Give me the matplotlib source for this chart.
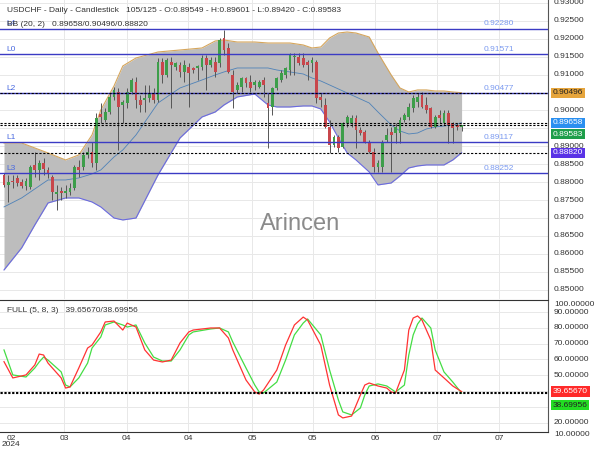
import numpy as np
import matplotlib
matplotlib.use("Agg")
import matplotlib.pyplot as plt
import matplotlib.transforms as mtransforms

plt.rcParams['font.family'] = ['Liberation Sans', 'DejaVu Sans']
Fontsize = 6

# --- USDCHF daily candles ---
opens = [0.88201, 0.87922, 0.88033, 0.88117, 0.88005, 0.87894, 0.87866, 0.88480, 0.88340, 0.88535,
         0.88340, 0.88145, 0.87670, 0.87754, 0.87698, 0.87726, 0.87838, 0.88424, 0.88424, 0.88759,
         0.88842, 0.88535, 0.89902, 0.89735, 0.89958, 0.90377, 0.90516, 0.90154, 0.90209, 0.90516,
         0.90795, 0.90293, 0.90293, 0.90349, 0.90488, 0.90293, 0.91353, 0.90991, 0.91353, 0.91214,
         0.91270, 0.91075, 0.91214, 0.91186, 0.91186, 0.91214, 0.91465, 0.91270, 0.91353, 0.91325,
         0.92023, 0.91744, 0.90991, 0.90573, 0.90656, 0.90907, 0.90795, 0.90712, 0.90656, 0.90851,
         0.90209, 0.90098, 0.90628, 0.90851, 0.90991, 0.91130, 0.91493, 0.91493, 0.91465, 0.91353,
         0.91325, 0.91353, 0.90377, 0.90154, 0.89540, 0.89038, 0.89261, 0.88982, 0.89651, 0.89651,
         0.89791, 0.89456, 0.89400, 0.89093, 0.88842, 0.88424, 0.88424, 0.89177, 0.89400, 0.89372,
         0.89372, 0.89735, 0.89819, 0.90070, 0.90237, 0.90433, 0.90154, 0.90070, 0.89540, 0.89875,
         0.89651, 0.89930, 0.89651, 0.89596, 0.89549]
highs = [0.88256, 0.88201, 0.88201, 0.88201, 0.88089, 0.88117, 0.88480, 0.88842, 0.88619, 0.88675,
         0.88424, 0.88201, 0.87922, 0.87866, 0.87922, 0.87977, 0.88480, 0.88619, 0.88842, 0.88982,
         0.89121, 0.89930, 0.90209, 0.90070, 0.90488, 0.90656, 0.90628, 0.90293, 0.90628, 0.90907,
         0.90935, 0.90433, 0.90712, 0.90712, 0.90628, 0.91465, 0.91465, 0.91465, 0.91493, 0.91353,
         0.91353, 0.91409, 0.91325, 0.91214, 0.91270, 0.91549, 0.91549, 0.91493, 0.91493, 0.92023,
         0.92246, 0.91883, 0.91130, 0.90795, 0.90935, 0.90935, 0.90991, 0.90851, 0.90851, 0.90935,
         0.90488, 0.90656, 0.90935, 0.91130, 0.91214, 0.91604, 0.91604, 0.91604, 0.91604, 0.91409,
         0.91493, 0.91409, 0.90488, 0.90349, 0.89735, 0.89317, 0.89317, 0.89679, 0.89875, 0.89875,
         0.89875, 0.89540, 0.89456, 0.89177, 0.88954, 0.88619, 0.89177, 0.89512, 0.89540, 0.89651,
         0.89819, 0.89930, 0.90209, 0.90433, 0.90488, 0.90516, 0.90377, 0.90098, 0.89875, 0.90014,
         0.90014, 0.90014, 0.89679, 0.89651, 0.89601]
lows = [0.87866, 0.87447, 0.87838, 0.87894, 0.87838, 0.87782, 0.87810, 0.88145, 0.88061, 0.88201,
        0.88117, 0.87503, 0.87224, 0.87503, 0.87559, 0.87643, 0.87782, 0.88145, 0.88340, 0.88675,
        0.88424, 0.88340, 0.89651, 0.89679, 0.89902, 0.90293, 0.88898, 0.89651, 0.90070, 0.90460,
        0.90070, 0.89958, 0.89958, 0.90237, 0.90209, 0.90237, 0.90767, 0.90935, 0.90070, 0.91130,
        0.90935, 0.90795, 0.90098, 0.91047, 0.90851, 0.91130, 0.90573, 0.91214, 0.90935, 0.91214,
        0.91549, 0.91047, 0.90070, 0.90488, 0.90516, 0.90656, 0.90516, 0.90573, 0.90628, 0.90377,
        0.88954, 0.89875, 0.90573, 0.90795, 0.90907, 0.90991, 0.90991, 0.91270, 0.91214, 0.90851,
        0.91075, 0.90209, 0.90098, 0.89512, 0.88814, 0.88982, 0.88842, 0.88954, 0.89540, 0.89540,
        0.88954, 0.89317, 0.89093, 0.88814, 0.88284, 0.88284, 0.88284, 0.89121, 0.88284, 0.89093,
        0.89093, 0.89679, 0.89735, 0.89958, 0.90098, 0.90070, 0.89930, 0.89512, 0.89512, 0.89651,
        0.89596, 0.89093, 0.89093, 0.89456, 0.89420]
closes = [0.87922, 0.88005, 0.88005, 0.87977, 0.87894, 0.88033, 0.88424, 0.88340, 0.88535, 0.88368,
          0.88229, 0.87726, 0.87726, 0.87698, 0.87754, 0.87838, 0.88424, 0.88340, 0.88759, 0.88842,
          0.88535, 0.89791, 0.89819, 0.89958, 0.90377, 0.90573, 0.90098, 0.90237, 0.90516, 0.90851,
          0.90293, 0.90154, 0.90349, 0.90488, 0.90293, 0.91353, 0.90991, 0.91409, 0.91270, 0.91325,
          0.91075, 0.91270, 0.91047, 0.91130, 0.91242, 0.91465, 0.91270, 0.91409, 0.91075, 0.91967,
          0.91688, 0.91075, 0.90516, 0.90712, 0.90907, 0.90767, 0.90628, 0.90795, 0.90795, 0.90712,
          0.90070, 0.90628, 0.90907, 0.91047, 0.91186, 0.91549, 0.91521, 0.91325, 0.91270, 0.91270,
          0.91409, 0.90349, 0.90293, 0.89540, 0.89038, 0.89261, 0.88954, 0.89651, 0.89819, 0.89791,
          0.89456, 0.89372, 0.89121, 0.88842, 0.88424, 0.88535, 0.89121, 0.89317, 0.89317, 0.89540,
          0.89735, 0.89875, 0.90098, 0.90349, 0.90377, 0.90098, 0.90014, 0.89540, 0.89819, 0.89791,
          0.89930, 0.89596, 0.89512, 0.89540, 0.89583]

# --- Bollinger band (20, 2) sampled along the candles ---
bb_idx = [0, 4, 7, 10, 14, 17, 20, 22, 25, 27, 30, 35, 40, 45, 48, 50, 53, 57, 60, 62,
          65, 68, 70, 72, 74, 76, 78, 80, 83, 85, 88, 90, 92, 94, 96, 98, 100, 102, 104]
bb_upper = [0.89093, 0.89093, 0.88954, 0.88814, 0.88619, 0.88759, 0.89317, 0.90014, 0.90684, 0.91242,
            0.91465, 0.91632, 0.91688, 0.91744, 0.91939, 0.91967, 0.91911, 0.91911, 0.91883, 0.91883,
            0.91883, 0.91828, 0.91744, 0.91772, 0.92023, 0.92162, 0.92190, 0.92162, 0.92051, 0.91604,
            0.90991, 0.90628, 0.90516, 0.90573, 0.90573, 0.90544, 0.90544, 0.90516, 0.90496]
bb_mid = [0.87308, 0.87559, 0.87810, 0.88061, 0.88061, 0.88117, 0.88229, 0.88340, 0.88703, 0.88898,
          0.89317, 0.90209, 0.90628, 0.90851, 0.90991, 0.91075, 0.91186, 0.91186, 0.91186, 0.91130,
          0.91075, 0.91019, 0.90907, 0.90823, 0.90712, 0.90600, 0.90488, 0.90377, 0.90209, 0.89958,
          0.89596, 0.89428, 0.89344, 0.89372, 0.89484, 0.89540, 0.89568, 0.89596, 0.89658]
bb_lower = [0.85550, 0.86164, 0.86805, 0.87419, 0.87559, 0.87559, 0.87447, 0.87308, 0.86999, 0.86945,
            0.86999, 0.88201, 0.89233, 0.89819, 0.89958, 0.90154, 0.90377, 0.90460, 0.90154, 0.90098,
            0.90098, 0.90126, 0.90126, 0.90042, 0.89679, 0.89233, 0.88814, 0.88619, 0.88284, 0.87922,
            0.87977, 0.88173, 0.88396, 0.88452, 0.88480, 0.88480, 0.88480, 0.88619, 0.88820]

# --- Stochastic FULL (5, 8, 3) ---
st_idx = [0, 2, 5, 7, 8, 9, 10, 13, 14, 15, 17, 19, 20, 22, 23, 25, 27, 28, 30, 32,
          34, 36, 38, 40, 42, 43, 47, 49, 51, 52, 55, 57, 58, 59, 62, 64, 66, 68, 69, 72,
          74, 76, 77, 79, 81, 82, 83, 85, 87, 88, 89, 91, 92, 93, 94, 95, 97, 98, 100, 102, 104]
st_k = [58.6, 48.3, 50.2, 56.5, 63.4, 62.8, 57.7, 48.3, 41.9, 42.6, 54.6, 67.2, 69.1, 77.4, 83.7, 84.3,
        78.6, 83.0, 80.5, 66.0, 59.6, 58.4, 59.6, 70.4, 77.4, 78.6, 79.9, 79.9, 73.6, 66.0, 47.0, 39.4,
        38.1, 40.7, 53.3, 69.1, 81.8, 86.8, 84.9, 69.1, 43.8, 24.9, 23.0, 24.2, 37.5, 43.8, 45.1, 43.2,
        41.9, 39.4, 38.8, 53.3, 78.6, 86.2, 87.5, 84.9, 72.3, 53.3, 48.3, 43.2, 39.6567]
st_d = [66.0, 50.2, 48.9, 54.6, 58.4, 61.5, 59.6, 52.1, 43.8, 42.6, 48.3, 57.7, 67.2, 74.2, 81.8, 83.7,
        81.8, 80.5, 81.8, 70.4, 61.5, 59.0, 59.0, 66.0, 75.5, 77.4, 79.3, 79.9, 77.4, 71.0, 54.6, 43.8,
        39.4, 38.8, 45.7, 59.6, 75.5, 83.0, 85.6, 75.5, 53.3, 34.3, 26.8, 24.9, 29.3, 37.5, 43.2, 44.5,
        43.2, 41.3, 39.4, 43.8, 62.8, 75.5, 82.4, 86.2, 79.9, 66.0, 52.1, 45.7, 38.69956]

# --- levels and labels ---
level_names = ['L4', 'L0', 'L2', 'L1', 'L3']
level_values = [0.92280, 0.91571, 0.90477, 0.89117, 0.88252]
# right-hand price labels (0.905 and 0.895 sit under the value tags)
price_ticks = [0.850, 0.855, 0.860, 0.865, 0.870, 0.875, 0.880, 0.885, 0.890,
               0.900, 0.910, 0.915, 0.920, 0.925, 0.930]
price_grid = [0.850, 0.855, 0.860, 0.865, 0.870, 0.875, 0.880, 0.885, 0.890, 0.895,
              0.900, 0.905, 0.910, 0.915, 0.920, 0.925, 0.930]
stoch_ticks = [20, 50, 60, 70, 80, 90]
stoch_grid = [20, 30, 40, 50, 60, 70, 80, 90]
xtick_pos = [1.6, 13.6, 27.9, 41.8, 56.4, 70.2, 84.3, 98.4, 112.5]
xtick_lab = ['02\n2024', '03', '04', '04', '05', '05', '06', '07', '07']

GREEN = '#3d9e4a'
RED = '#c8464b'
GRID = '#e8e8e8'
LEVEL = '#3b3bc4'

fig = plt.figure(figsize=(6, 4.5), dpi=100)
ax = fig.add_axes([0, 1 - 299 / 450, 548 / 600, 299 / 450])
ax2 = fig.add_axes([0, 1 - 432 / 450, 548 / 600, 132 / 450], sharex=ax)

xmin, xmax = -0.91, 123.64
ax.set_xlim(xmin, xmax)
ax.set_ylim(0.84739, 0.93083)
ax2.set_ylim(14.1, 97.6)

# grid
for v in price_grid:
    ax.axhline(v, color=GRID, lw=0.7, zorder=0)
for v in stoch_grid:
    ax2.axhline(v, color=GRID, lw=0.7, zorder=0)
for a in (ax, ax2):
    for p in xtick_pos[1:]:
        a.axvline(p, color=GRID, lw=0.7, zorder=0)

# bollinger band
ax.fill_between(bb_idx, bb_lower, bb_upper, color='#bdbdbd', lw=0, zorder=1)
ax.plot(bb_idx, bb_upper, color='#d6a65c', lw=0.8, zorder=2)
ax.plot(bb_idx, bb_lower, color='#6a6ae0', lw=0.8, zorder=2)
ax.plot(bb_idx, bb_mid, color='#4f82b8', lw=0.6, zorder=2)

# candles
o = np.array(opens)
h = np.array(highs)
l = np.array(lows)
c = np.array(closes)
idx = np.arange(len(o))
col = np.where(c >= o, GREEN, RED)
ax.vlines(idx, l, h, color='#555555', lw=0.7, zorder=3)
body = np.maximum(np.abs(c - o), 0.00006)
ax.bar(idx, body, bottom=np.minimum(o, c), width=0.65, color=col, lw=0, zorder=4)

# levels
trans = mtransforms.blended_transform_factory(ax.transAxes, ax.transData)
for name, v in zip(level_names, level_values):
    ax.axhline(v, color=LEVEL, lw=1.0, zorder=5)
    ax.text(0.5, v + 0.0004, name, color='#4a6ae0', fontsize=Fontsize, va='bottom', ha='left', zorder=6)
    ax.text(108.9, v + 0.0004, '%.5f' % v, color='#7b9af0', fontsize=Fontsize, va='bottom', ha='left', zorder=6)

# current value lines
for v in [0.90496, 0.89658, 0.89583, 0.88820]:
    ax.axhline(v, color='black', lw=0.8, ls=(0, (2, 1.5)), zorder=6)

# right axis labels (main)
for v in price_ticks:
    ax.text(1.011, v, '%.5f' % v, transform=trans, fontsize=Fontsize, color='#333333',
            va='center', ha='left', clip_on=False)

tags = [(0.90496, 0.90496, '#e6a53c', '#222222'),
        (0.89658, 0.89658, '#2a8ff0', 'white'),
        (0.89583, 0.89336, '#1e9e4a', 'white'),
        (0.88820, 0.88820, '#5a33e6', 'white')]
for v, pos, bg, fg in tags:
    ax.text(1.009, pos, '%.5f' % v, transform=trans, fontsize=Fontsize, color=fg, va='center', ha='left',
            clip_on=False, zorder=10, bbox=dict(boxstyle='square,pad=0.2', fc=bg, ec='none'))

# stochastic
ax2.plot(st_idx, st_d, color='#44dd44', lw=0.9, zorder=3)
ax2.plot(st_idx, st_k, color='#ff3333', lw=0.9, zorder=4)
for v in [st_k[-1], st_d[-1]]:
    ax2.axhline(v, color='black', lw=0.8, ls=(0, (2, 1.5)), zorder=5)

trans2 = mtransforms.blended_transform_factory(ax2.transAxes, ax2.transData)
for v in stoch_ticks:
    ax2.text(1.011, v, '%.5f' % v, transform=trans2, fontsize=Fontsize, color='#333333',
             va='center', ha='left', clip_on=False)
ax2.text(1.011, 95.06, '100.00000', transform=trans2, fontsize=Fontsize, color='#333333',
         va='center', ha='left', clip_on=False)
ax2.text(1.011, 12.8, '10.00000', transform=trans2, fontsize=Fontsize, color='#333333',
         va='center', ha='left', clip_on=False)
ax2.text(1.009, st_k[-1], '%.5f' % st_k[-1], transform=trans2, fontsize=Fontsize, color='white',
         va='center', ha='left', clip_on=False, zorder=10,
         bbox=dict(boxstyle='square,pad=0.2', fc='#ff2a2a', ec='none'))
ax2.text(1.009, 31.0, '%.5f' % st_d[-1], transform=trans2, fontsize=Fontsize, color='#222222',
         va='center', ha='left', clip_on=False, zorder=10,
         bbox=dict(boxstyle='square,pad=0.2', fc='#22dd22', ec='none'))

# axes styling
for a in (ax, ax2):
    a.set_yticks([])
    a.spines['left'].set_visible(False)
    a.spines['right'].set_color('#555555')
ax.spines['top'].set_visible(False)
ax.spines['bottom'].set_visible(False)
ax.tick_params(axis='x', bottom=False, labelbottom=False)
ax2.spines['top'].set_color('#333333')
ax2.spines['bottom'].set_color('#333333')
ax2.set_xticks(xtick_pos)
ax2.set_xticklabels(xtick_lab, fontsize=Fontsize, color='#333333', linespacing=0.9)
ax2.tick_params(axis='x', length=0, pad=2)

# titles and watermark
fig.text(7 / 600, 1 - 10 / 450,
         'USDCHF - Daily - Candlestick   105/125 - O:0.89549 - H:0.89601 - L:0.89420 - C:0.89583',
         fontsize=Fontsize, color='#333333', va='center', ha='left')
fig.text(7 / 600, 1 - 25 / 450, 'BB (20, 2)   0.89658/0.90496/0.88820',
         fontsize=Fontsize, color='#333333', va='center', ha='left')
fig.text(7 / 600, 1 - 311 / 450, 'FULL (5, 8, 3)   39.65670/38.69956',
         fontsize=Fontsize, color='#333333', va='center', ha='left')
fig.text(0.5, 1 - 224 / 450, 'Arincen', fontsize=17, color='#777777', alpha=0.85,
         va='center', ha='center')

fig.savefig('out.png', dpi=100)
